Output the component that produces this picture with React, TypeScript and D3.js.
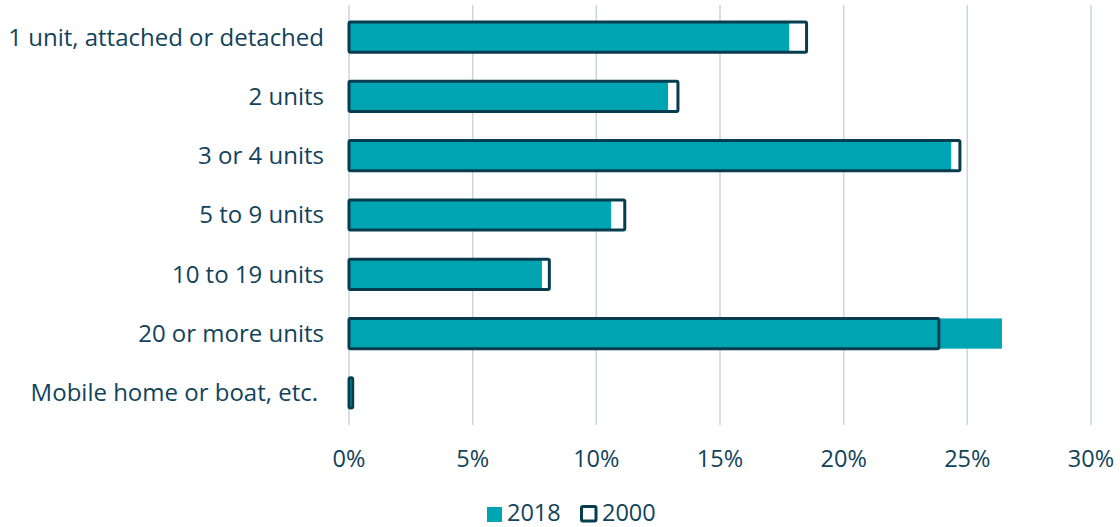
import React from "react";
import * as d3 from "d3";

const categories = [
  "1 unit, attached or detached",
  "2 units",
  "3 or 4 units",
  "5 to 9 units",
  "10 to 19 units",
  "20 or more units",
  "Mobile home or boat, etc.",
];
const values2018 = [17.8, 12.9, 24.35, 10.6, 7.8, 26.4, 0.1];
const values2000 = [18.5, 13.3, 24.7, 11.15, 8.1, 23.85, 0.15];
const ticks = [0, 5, 10, 15, 20, 25, 30];

const W = 1120;
const H = 527;
const left = 349;
const right = 1091;
const top = 7.5;
const bottom = 422.5;

const TEAL = "#00a5b4";
const DARK = "#083d50";
const TEXT = "#12435a";
const GRID = "#cbd5da";
const FONT = "'Open Sans', sans-serif";

export default function App() {
  const x = d3.scaleLinear().domain([0, 30]).range([left, right]);
  const y = d3
    .scaleBand<string>()
    .domain(categories)
    .range([top, bottom])
    .paddingInner(0.49)
    .paddingOuter(0.245);
  const bh = y.bandwidth();

  return (
    <svg
      width={W}
      height={H}
      style={{ position: "absolute", left: 0, top: 0, background: "#fff" }}
    >
      {ticks.map((t) => (
        <line
          key={"g" + t}
          x1={x(t)}
          x2={x(t)}
          y1={5}
          y2={425}
          stroke={GRID}
          strokeWidth={1.5}
        />
      ))}
      {categories.map((c, i) => (
        <rect
          key={"a" + i}
          x={x(0)}
          y={y(c)}
          width={x(values2018[i]) - x(0)}
          height={bh}
          fill={TEAL}
        />
      ))}
      {categories.map((c, i) => (
        <rect
          key={"b" + i}
          x={x(0)}
          y={y(c)}
          width={x(values2000[i]) - x(0)}
          height={bh}
          fill="none"
          stroke={DARK}
          strokeWidth={3}
          rx={1.5}
        />
      ))}
      {categories.map((c, i) => (
        <text
          key={"l" + c}
          x={i === categories.length - 1 ? 318 : 324}
          y={(y(c) as number) + bh / 2}
          dy="0.35em"
          textAnchor="end"
          fontFamily={FONT}
          fontSize={24}
          fill={TEXT}
        >
          {c}
        </text>
      ))}
      {ticks.map((t) => (
        <text
          key={"t" + t}
          x={x(t)}
          y={467}
          textAnchor="middle"
          fontFamily={FONT}
          fontSize={23.5}
          fill={TEXT}
        >
          {t}%
        </text>
      ))}
      <g fontFamily={FONT} fontSize={23.5} fill={TEXT}>
        <rect x={487} y={507} width={15} height={15} fill={TEAL} />
        <text x={507} y={521}>2018</text>
        <rect
          x={581.5}
          y={506.5}
          width={14.5}
          height={14.5}
          fill="none"
          stroke={DARK}
          strokeWidth={3}
          rx={1.5}
        />
        <text x={602} y={521}>2000</text>
      </g>
    </svg>
  );
}
